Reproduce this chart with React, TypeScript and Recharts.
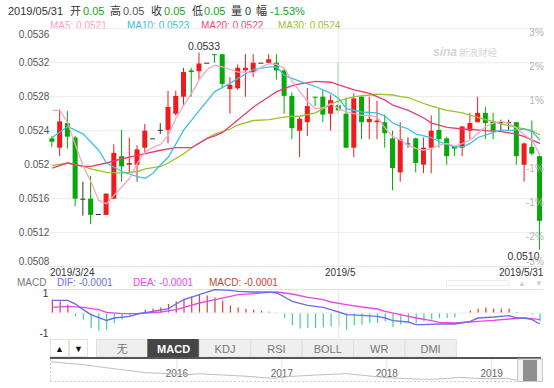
import React from 'react';
import { ComposedChart, LineChart, Bar, Line, XAxis, YAxis, ReferenceLine, CartesianGrid } from 'recharts';

const FONT = '"Liberation Sans", Arial, "Noto Sans CJK SC", sans-serif';
const CJK = '"Noto Sans CJK SC", "Liberation Sans", sans-serif';
const RED = '#ee1c1c';
const GREEN = '#07a807';
const DOJI = '#333333';
const _ = null;

// ---- candles (64 sessions) ----
const opens = [0.05231,0.05220,0.05249,0.05232,0.05160,0.05160,0.05142,0.05141,0.05160,0.05210,0.05200,0.05200,0.05220,0.05231,0.05241,0.05241,
  0.05260,0.05280,0.05311,0.05310,0.05320,0.05330,0.05330,0.05289,0.05290,0.05311,0.05309,0.05320,0.05320,0.05320,0.05311,0.05281,
  0.05240,0.05250,0.05280,0.05280,0.05260,0.05270,0.05260,0.05220,0.05280,0.05250,0.05250,0.05250,0.05231,0.05191,0.05225,0.05231,
  0.05200,0.05220,0.05241,0.05231,0.05222,0.05220,0.05240,0.05250,0.05261,0.05251,0.05250,0.05250,0.05250,0.05200,0.05221,0.05210];
const highs = [0.05234,0.05265,0.05263,0.05234,0.05180,0.05187,0.05142,0.05166,0.05224,0.05241,0.05232,0.05223,0.05248,0.05231,0.05249,0.05287,
  0.05287,0.05314,0.05314,0.05332,0.05320,0.05330,0.05330,0.05303,0.05318,0.05330,0.05330,0.05320,0.05330,0.05330,0.05314,0.05285,
  0.05256,0.05290,0.05280,0.05288,0.05282,0.05320,0.05279,0.05284,0.05281,0.05280,0.05275,0.05259,0.05240,0.05250,0.05232,0.05232,
  0.05232,0.05258,0.05266,0.05233,0.05222,0.05245,0.05261,0.05280,0.05268,0.05261,0.05253,0.05253,0.05250,0.05226,0.05252,0.05213];
const lows = [0.05221,0.05210,0.05219,0.05151,0.05140,0.05130,0.05142,0.05141,0.05160,0.05180,0.05191,0.05180,0.05213,0.05231,0.05236,0.05225,
  0.05258,0.05269,0.05280,0.05300,0.05320,0.05320,0.05290,0.05260,0.05288,0.05280,0.05303,0.05320,0.05320,0.05300,0.05260,0.05230,
  0.05209,0.05234,0.05269,0.05250,0.05240,0.05260,0.05220,0.05209,0.05230,0.05230,0.05230,0.05220,0.05170,0.05180,0.05220,0.05191,
  0.05190,0.05190,0.05220,0.05200,0.05210,0.05210,0.05230,0.05250,0.05230,0.05230,0.05240,0.05240,0.05200,0.05180,0.05211,0.05100];
const closes = [0.05227,0.05251,0.05233,0.05160,0.05160,0.05141,0.05142,0.05166,0.05214,0.05198,0.05202,0.05218,0.05240,0.05231,0.05241,0.05268,
  0.05281,0.05309,0.05309,0.05319,0.05320,0.05329,0.05295,0.05294,0.05314,0.05314,0.05320,0.05320,0.05324,0.05311,0.05281,0.05243,
  0.05254,0.05269,0.05279,0.05259,0.05276,0.05264,0.05220,0.05278,0.05250,0.05254,0.05252,0.05237,0.05196,0.05230,0.05225,0.05202,
  0.05220,0.05240,0.05230,0.05210,0.05219,0.05245,0.05249,0.05261,0.05249,0.05240,0.05250,0.05250,0.05210,0.05225,0.05213,0.05134];

// ---- moving averages ----
const ma5 = [0.05264,0.05264,0.05249,0.05223,0.05198,0.05180,0.05158,0.05154,0.05164,0.05174,
  0.05184,0.05202,0.05215,0.05220,0.05224,0.05235,0.05255,0.05270,0.05284,0.05300,
  0.05312,0.05317,0.05315,0.05312,0.05309,0.05309,0.05308,0.05315,0.05319,0.05318,
  0.05313,0.05298,0.05286,0.05274,0.05266,0.05267,0.05272,0.05266,0.05262,0.05260,
  0.05258,0.05258,0.05256,0.05243,0.05233,0.05229,0.05223,0.05219,0.05217,0.05219,
  0.05223,0.05225,0.05222,0.05225,0.05229,0.05237,0.05245,0.05249,0.05251,0.05249,
  0.05243,0.05235,0.05229,0.05211];
const ma10 = [0.05232,_,0.05245,_,0.05236,_,0.05217,0.05202,
  _,0.05192,_,0.05186,0.05184,0.05190,0.05200,0.05209,
  _,0.05241,_,0.05264,_,0.05286,_,0.05296,
  _,0.05307,0.05312,_,0.05315,0.05315,0.05305,_,
  0.05298,_,0.05292,_,0.05284,0.05278,0.05266,_,
  0.05262,_,0.05261,0.05257,0.05249,0.05245,0.05242,0.05236,
  _,0.05232,0.05227,_,0.05221,0.05221,0.05225,0.05232,
  _,0.05238,0.05241,0.05240,_,0.05242,0.05239,0.05229];
const ma20 = [0.05196,_,0.05202,_,0.05198,0.05198,_,0.05202,
  _,0.05207,_,0.05211,0.05213,_,0.05217,_,
  0.05220,_,0.05220,_,0.05231,0.05234,0.05238,_,
  0.05253,_,0.05268,_,0.05280,0.05286,_,0.05293,
  0.05295,_,0.05298,_,0.05297,0.05294,_,0.05288,
  _,0.05284,_,0.05276,0.05270,_,0.05264,_,
  0.05255,0.05249,_,0.05244,_,0.05242,_,0.05241,
  0.05240,_,0.05239,_,0.05236,0.05233,0.05229,0.05225];
const ma30 = [0.05199,_,0.05202,_,0.05198,0.05195,_,0.05191,
  _,0.05190,_,0.05192,0.05195,_,0.05198,0.05202,
  _,0.05213,0.05220,_,0.05231,0.05236,_,0.05242,
  0.05247,_,0.05252,_,0.05253,_,0.05256,0.05257,
  0.05257,_,0.05261,0.05266,0.05271,0.05275,_,0.05280,
  _,0.05282,0.05283,_,0.05282,0.05280,0.05279,_,
  0.05272,0.05269,_,0.05264,_,0.05261,0.05258,_,
  0.05253,_,0.05248,_,0.05244,0.05242,0.05240,0.05235];

// ---- MACD (axis units) ----
const macdBars = [0.67,0.58,0.42,-0.15,-0.33,-0.75,-0.88,-0.83,
  -0.5,-0.33,-0.17,-0.05,0.17,0.22,0.28,0.45,
  0.58,0.72,0.83,0.92,0.88,0.78,0.62,0.38,
  0.28,0.22,0.17,0.12,0.07,0.02,-0.25,-0.6,
  -0.78,-0.75,-0.75,-0.72,-0.67,-0.7,-0.83,-0.62,
  -0.58,-0.5,-0.5,-0.42,-0.7,-0.58,-0.5,-0.5,
  -0.42,-0.33,-0.25,-0.25,-0.22,-0.02,0.12,0.22,
  0.28,0.22,0.22,0.22,0.05,0,-0.08,-0.42];
const dif = [0.63,_,0.63,0.45,0.17,-0.08,_,-0.37,
  -0.25,_,-0.17,-0.05,_,0.08,_,0.22,
  0.45,0.67,_,0.92,_,1.17,_,1.13,
  1.08,_,1.05,_,1.05,1.0,0.8,0.58,
  _,0.38,_,0.28,0.17,0.05,-0.08,_,
  -0.12,_,-0.17,-0.25,-0.38,_,-0.45,-0.58,
  -0.58,_,-0.55,_,-0.55,_,-0.42,-0.25,
  _,-0.2,_,-0.13,-0.25,-0.25,-0.33,-0.55];
const dea = [0.28,_,0.33,_,0.28,_,0.17,0.03,
  _,-0.03,_,-0.03,0,_,0.05,_,
  0.17,0.28,_,0.5,_,0.67,_,0.83,
  0.92,_,0.97,_,1.03,1.05,_,0.95,
  _,0.78,_,0.67,0.55,_,0.42,_,
  0.3,_,0.2,0.08,_,-0.08,_,-0.25,
  _,-0.38,-0.47,_,-0.5,_,-0.45,-0.42,
  _,-0.37,_,-0.3,_,-0.25,-0.28,-0.33];

// ---- axes ----
const priceTicks = [0.0508, 0.0512, 0.0516, 0.052, 0.0524, 0.0528, 0.0532, 0.0536];
const priceTickLabels = ['0.0508', '0.0512', '0.0516', '0.052', '0.0524', '0.0528', '0.0532', '0.0536'];
const pctTickLabels = ['-3%', '-2%', '-1%', '-1%', '', '1%', '2%', '3%'];
const dateTicks = [0, 37, 63];
const dateLabels = ['2019/3/24', '2019/5', '2019/5/31'];
const macdTicks = [1, -1];
const macdTickLabels = ['1', '-1'];

// ---- navigator overview ----
const navYears = [2014.80,2014.89,2014.98,2015.10,2015.22,2015.36,2015.50,2015.71,2015.84,2015.96,2016.10,2016.22,2016.36,2016.53,2016.70,2016.79,2016.92,
  2017.08,2017.24,2017.41,2017.62,2017.79,2017.97,2018.12,2018.31,2018.45,2018.58,2018.70,2018.84,2018.98,2019.14,2019.24,2019.36,2019.47];
const navValues = [0.05917,0.05875,0.05833,0.05792,0.05708,0.05625,0.05542,0.05417,0.05396,0.05375,0.05333,0.05375,0.05333,0.05292,0.05250,0.05208,0.05167,
  0.05250,0.05292,0.05333,0.05375,0.05292,0.05208,0.05167,0.05125,0.05125,0.05167,0.05208,0.05167,0.05146,0.05167,0.05083,0.05125,0.05083];
const navYearTicks = [2016, 2017, 2018, 2019];

const tabs = ['无', 'MACD', 'KDJ', 'RSI', 'BOLL', 'WR', 'DMI'];
const activeTab = 'MACD';

const CHART_W = 554;
const MAIN_LEFT = 48.4;
const MAIN_RIGHT_MARGIN = 10.2;
const PLOT_W = CHART_W - MAIN_LEFT - MAIN_RIGHT_MARGIN;

const maxIdx = highs.indexOf(Math.max(...highs));
const minIdx = lows.indexOf(Math.min(...lows));

const rows = opens.map((o, i) => ({
  i, o, h: highs[i], l: lows[i], c: closes[i], range: [lows[i], highs[i]],
  ma5: ma5[i], ma10: ma10[i], ma20: ma20[i], ma30: ma30[i],
}));
const macdRows = macdBars.map((m, i) => ({ i, macd: m, dif: dif[i], dea: dea[i] }));
const navRows = navYears.map((t, i) => ({ t, v: navValues[i] }));

const Candle = (props: any) => {
  const { x, y, width, height, payload } = props;
  if (x == null || y == null || !payload) return null;
  const cx = x + width / 2;
  const top = Math.min(y, y + (height || 0));
  const hgt = Math.abs(height || 0);
  const { o, h, l, c, i } = payload;
  const span = h - l;
  const k = span > 0 ? hgt / span : 0;
  const py = (v: number) => top + (h - v) * k;
  const color = c > o ? RED : c < o ? GREEN : DOJI;
  const bTop = py(Math.max(o, c));
  const bBot = py(Math.min(o, c));
  return (
    <g>
      {hgt > 0 && <line x1={cx} x2={cx} y1={top} y2={top + hgt} stroke={color} strokeWidth={1} />}
      <rect x={cx - 2.5} y={bTop} width={5} height={Math.max(bBot - bTop, 1)} fill={color} />
      {i === maxIdx && (
        <text x={cx + 5} y={top - 3} textAnchor="middle" fontSize={10.5} fill="#333" fontFamily={FONT}>{h.toFixed(4)}</text>
      )}
      {i === minIdx && (
        <text x={cx} y={top + hgt + 10} textAnchor="end" fontSize={10.5} fill="#333" fontFamily={FONT}>{l.toFixed(4)}</text>
      )}
    </g>
  );
};

const MacdBar = (props: any) => {
  const { x, y, width, height, payload } = props;
  if (x == null || y == null || !payload) return null;
  const cx = x + width / 2;
  const top = Math.min(y, y + (height || 0));
  const hgt = Math.abs(height || 0);
  if (hgt < 0.3) return null;
  const col = payload.macd >= 0 ? '#d0462e' : '#3fd0a0';
  return <rect x={cx - 0.6} y={top} width={1.2} height={hgt} fill={col} />;
};

const findTick = (arr: number[], v: number) => arr.findIndex((t) => Math.abs(t - v) < 1e-9);

const PriceTick = (props: any) => {
  const { x, y, payload } = props;
  const k = findTick(priceTicks, payload.value);
  if (k < 0) return null;
  const last = priceTicks.length - 1;
  const cy = k === last ? y + 5.3 : k === 0 ? y - 5.7 : y;
  const ry = k === 0 ? y - 1.4 : y + 7.5;
  return (
    <g>
      <text x={x + 1} y={cy + 3.6} textAnchor="end" fontSize={10} fill="#555" fontFamily={FONT}>{priceTickLabels[k]}</text>
      {pctTickLabels[k] && (
        <text x={x + PLOT_W} y={ry} textAnchor="end" fontSize={10} fill="#b5b5b5" fontFamily={FONT}>{pctTickLabels[k]}</text>
      )}
    </g>
  );
};

const DateTick = (props: any) => {
  const { x, y, payload } = props;
  const k = dateTicks.indexOf(payload.value);
  if (k < 0) return null;
  const anchor = k === 0 ? 'start' : k === dateTicks.length - 1 ? 'end' : 'middle';
  const dx = k === 0 ? -2.3 : k === dateTicks.length - 1 ? 3.5 : 1.5;
  return <text x={x + dx} y={y + 9.3} textAnchor={anchor} fontSize={10} fill="#333" fontFamily={FONT}>{dateLabels[k]}</text>;
};

const MacdTick = (props: any) => {
  const { x, y, payload } = props;
  const k = findTick(macdTicks, payload.value);
  if (k < 0) return null;
  return <text x={x} y={y + 3.6} textAnchor="end" fontSize={10} fill="#333" fontFamily={FONT}>{macdTickLabels[k]}</text>;
};

const yearLabel = (label: string) => (props: any) => {
  const vb = props.viewBox || {};
  return <text x={vb.x} y={(vb.y || 0) + (vb.height || 0) - 5} textAnchor="middle" fontSize={10} fill="#666" fontFamily={FONT}>{label}</text>;
};

export default function App() {
  const tabX0 = 96;
  const tabW = 51.4;
  return (
    <div style={{ position: 'absolute', left: 0, top: 0, width: 554, height: 388, background: '#fff', overflow: 'hidden', fontFamily: FONT }}>
      <svg width={554} height={388} style={{ position: 'absolute', left: 0, top: 0 }}>
        {/* header */}
        <g fontSize={11} fontFamily={FONT}>
          <text x={8} y={14.5} fill="#333">2019/05/31</text>
          <text x={70} y={14.5} fill="#333" fontFamily={CJK}>开</text>
          <text x={83} y={14.5} fill="#1a9f1a">0.05</text>
          <text x={110} y={14.5} fill="#333" fontFamily={CJK}>高</text>
          <text x={123} y={14.5} fill="#555">0.05</text>
          <text x={151} y={14.5} fill="#333" fontFamily={CJK}>收</text>
          <text x={164} y={14.5} fill="#1a9f1a">0.05</text>
          <text x={192} y={14.5} fill="#333" fontFamily={CJK}>低</text>
          <text x={204} y={14.5} fill="#1a9f1a">0.05</text>
          <text x={231} y={14.5} fill="#333" fontFamily={CJK}>量</text>
          <text x={245} y={14.5} fill="#333">0</text>
          <text x={256} y={14.5} fill="#333" fontFamily={CJK}>幅</text>
          <text x={270} y={14.5} fill="#1a9f1a">-1.53%</text>
        </g>
        <g fontSize={10} fontFamily={FONT}>
          <text x={50} y={28.5} fill="#f5a3c3">MA5: 0.0521</text>
          <text x={127} y={28.5} fill="#3bbde0">MA10: 0.0523</text>
          <text x={201} y={28.5} fill="#ef4b7c">MA20: 0.0522</text>
          <text x={278} y={28.5} fill="#9cc22b">MA30: 0.0524</text>
        </g>
        {/* watermark */}
        <g fill="#d6d6d6">
          <text x={433} y={56} fontSize={12} fontStyle="italic" fontWeight="bold" fontFamily={FONT}>sina</text>
          <text x={459} y={56} fontSize={9.5} fontFamily={CJK}>新浪财经</text>
        </g>
        {/* MACD legend */}
        <g fontSize={10} fontFamily={FONT}>
          <text x={17} y={286} fill="#777">MACD</text>
          <text x={57} y={286} fill="#6b6bf2">DIF: -0.0001</text>
          <text x={133} y={286} fill="#ee44ee">DEA: -0.0001</text>
          <text x={209} y={286} fill="#c8443a">MACD: -0.0001</text>
        </g>
        <rect x={446.5} y={280.5} width={62} height={5} fill="none" stroke="#dcdcdc" strokeDasharray="1 1" />
        <text x={522} y={286} fontSize={8} fill="#cfcfcf" textAnchor="middle">▲</text>
        <text x={539} y={286} fontSize={8} fill="#cfcfcf" textAnchor="middle">▼</text>
        <line x1={48.4} x2={543.8} y1={289.5} y2={289.5} stroke="#e2e2e2" />
        {/* buttons */}
        <rect x={50.5} y={339.5} width={18} height={17} fill="#fff" stroke="#e2e2e2" />
        <text x={59.5} y={352} fontSize={9} textAnchor="middle" fill="#111">▲</text>
        <rect x={69.5} y={339.5} width={18} height={17} fill="#fff" stroke="#e2e2e2" />
        <text x={78.5} y={352} fontSize={9} textAnchor="middle" fill="#111">▼</text>
        {tabs.map((t, k) => {
          const x = tabX0 + k * tabW;
          const on = t === activeTab;
          return (
            <g key={t}>
              <rect x={x + 0.5} y={339.5} width={tabW} height={17.5} fill={on ? '#454545' : '#efefef'} stroke={on ? '#454545' : '#dedede'} />
              <text x={x + tabW / 2 + 0.5} y={352.5} textAnchor="middle" fontSize={11} fontWeight={on ? 'bold' : 'normal'}
                fill={on ? '#fff' : '#777'} fontFamily={t === '无' ? CJK : FONT}>{t}</text>
            </g>
          );
        })}
        {/* navigator frame */}
        <line x1={50} x2={541} y1={358} y2={358} stroke="#555" strokeWidth={2} />
        <line x1={50} x2={517} y1={381.5} y2={381.5} stroke="#d0d0d0" strokeDasharray="2 2" />
        <line x1={50.5} x2={50.5} y1={359} y2={382} stroke="#d0d0d0" strokeDasharray="2 2" />
      </svg>

      <div style={{ position: 'absolute', left: 0, top: 0 }}>
        <ComposedChart width={CHART_W} height={280} data={rows} margin={{ top: 28.7, right: MAIN_RIGHT_MARGIN, bottom: 0, left: 0 }}>
          <CartesianGrid vertical={false} stroke="#ececec" />
          <XAxis dataKey="i" type="category" height={13.3} ticks={dateTicks} interval={0} tick={DateTick}
            tickLine={false} tickSize={0} tickMargin={0} axisLine={{ stroke: '#cccccc', strokeDasharray: '1 2' }} />
          <YAxis domain={[0.0508, 0.0536]} ticks={priceTicks} width={MAIN_LEFT} tickSize={0} tickMargin={0}
            tickLine={false} axisLine={false} tick={PriceTick} allowDataOverflow interval={0} />
          <ReferenceLine x={37} stroke="#ececec" />
          <Bar dataKey="range" shape={Candle} isAnimationActive={false} barSize={5} />
          <Line dataKey="ma30" stroke="#9cc22b" strokeWidth={1.3} dot={false} connectNulls isAnimationActive={false} />
          <Line dataKey="ma20" stroke="#ea3c72" strokeWidth={1.3} dot={false} connectNulls isAnimationActive={false} />
          <Line dataKey="ma10" stroke="#3cc0e2" strokeWidth={1.3} dot={false} connectNulls isAnimationActive={false} />
          <Line dataKey="ma5" stroke="#f5a6c4" strokeWidth={1.3} dot={false} connectNulls isAnimationActive={false} />
        </ComposedChart>
      </div>

      <div style={{ position: 'absolute', left: 0, top: 280 }}>
        <ComposedChart width={CHART_W} height={60} data={macdRows} margin={{ top: 9, right: MAIN_RIGHT_MARGIN, bottom: 2, left: 0 }}>
          <XAxis dataKey="i" type="category" hide />
          <YAxis domain={[-1.25, 1.2]} ticks={macdTicks} width={MAIN_LEFT} tickSize={0} tickMargin={0}
            tickLine={false} axisLine={false} tick={MacdTick} allowDataOverflow interval={0} />
          <ReferenceLine y={0} stroke="#efefef" />
          <ReferenceLine x={37} stroke="#e6e6e6" />
          <Bar dataKey="macd" shape={MacdBar} isAnimationActive={false} barSize={2} />
          <Line dataKey="dea" stroke="#ee44ee" strokeWidth={1.4} dot={false} connectNulls isAnimationActive={false} />
          <Line dataKey="dif" stroke="#6b6bf2" strokeWidth={1.4} dot={false} connectNulls isAnimationActive={false} />
        </ComposedChart>
      </div>

      <div style={{ position: 'absolute', left: 0, top: 359 }}>
        <LineChart width={CHART_W} height={23} data={navRows} margin={{ top: 0, right: 13, bottom: 0, left: 50 }}>
          <XAxis dataKey="t" type="number" domain={[2014.79, 2019.47]} hide allowDataOverflow />
          <YAxis domain={[0.05, 0.0604]} hide allowDataOverflow />
          {navYearTicks.map((yr) => (
            <ReferenceLine key={yr} x={yr} stroke="#e4e4e4" label={yearLabel(String(yr))} />
          ))}
          <Line dataKey="v" stroke="#bdbdbd" strokeWidth={1} dot={false} isAnimationActive={false} />
        </LineChart>
      </div>

      <svg width={554} height={388} style={{ position: 'absolute', left: 0, top: 0, pointerEvents: 'none' }}>
        <rect x={517.5} y={359} width={25} height={22.5} fill="#f3f3f3" stroke="#c8c8c8" />
        <rect x={523} y={360} width={14} height={21} fill="#8e8e8e" />
      </svg>
    </div>
  );
}
